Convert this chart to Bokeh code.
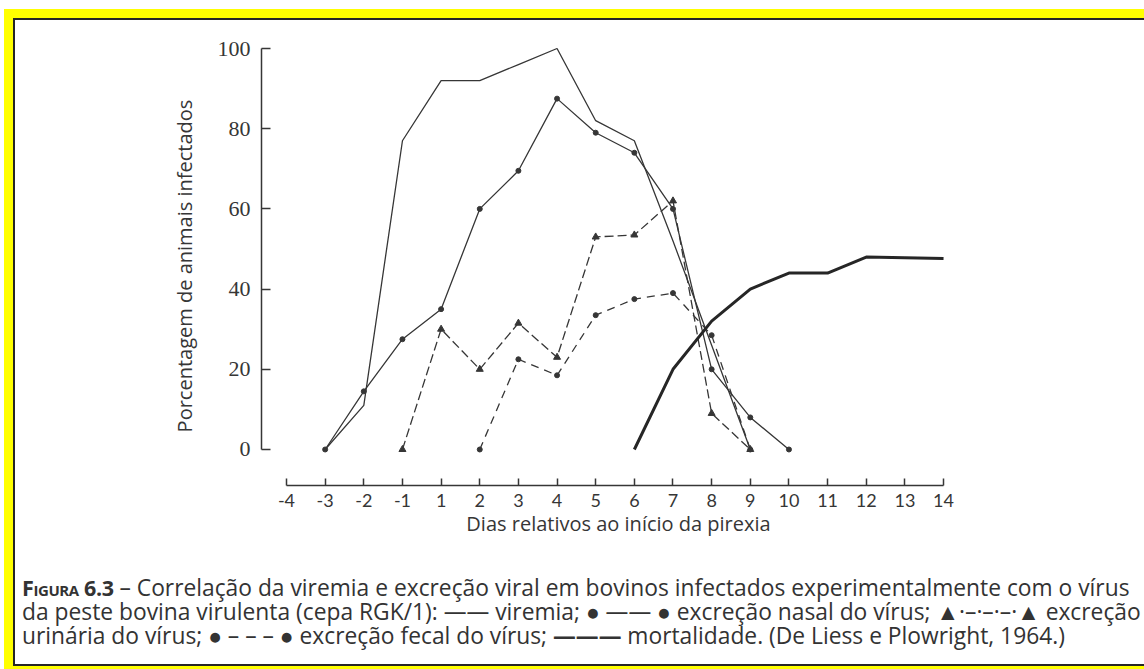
from bokeh.plotting import figure
from bokeh.models import Range1d, FixedTicker, Div, Column
from bokeh.embed import file_html
from bokeh.resources import INLINE

# ---------------- data ----------------
day_labels = ["-4", "-3", "-2", "-1", "1", "2", "3", "4", "5",
              "6", "7", "8", "9", "10", "11", "12", "13", "14"]
y_ticks = [0, 20, 40, 60, 80, 100]

viremia_days = ["-3", "-2", "-1", "1", "2", "3", "4", "5", "6", "7", "8", "9"]
viremia_pct = [0, 11, 77, 92, 92, 96, 100, 82, 77, 52, 26, 0]

nasal_days = ["-3", "-2", "-1", "1", "2", "3", "4", "5", "6", "7", "8", "9", "10"]
nasal_pct = [0, 14.5, 27.5, 35, 60, 69.5, 87.5, 79, 74, 60, 20, 8, 0]

urinary_days = ["-1", "1", "2", "3", "4", "5", "6", "7", "8", "9"]
urinary_pct = [0, 30, 20, 31.5, 23, 53, 53.5, 62, 9, 0]

fecal_days = ["2", "3", "4", "5", "6", "7", "8", "9"]
fecal_pct = [0, 22.5, 18.5, 33.5, 37.5, 39, 28.5, 0]

mortality_days = ["6", "7", "8", "9", "10", "11", "12", "13", "14"]
mortality_pct = [0, 20, 32, 40, 44, 44, 48, 47.8, 47.6]

y_title = "Porcentagem de animais infectados"
x_title = "Dias relativos ao início da pirexia"

# ---------------- helpers ----------------
pos = {lab: i for i, lab in enumerate(day_labels)}


def xs(days):
    return [pos[d] for d in days]


INK = "#363636"
W, H = 1144, 669
FIG_H = 571

p = figure(width=W, height=FIG_H,
           x_range=Range1d(-0.647, 17.827), y_range=Range1d(-8.98, 100.5),
           output_backend="svg", toolbar_location=None,
           min_border_left=261, min_border_right=169,
           min_border_top=46, min_border_bottom=FIG_H - 485,
           border_fill_color=None, background_fill_color=None,
           outline_line_color=None)
p.grid.visible = False

# y axis
ya = p.yaxis[0]
ya.bounds = (0, 100)
ya.ticker = FixedTicker(ticks=y_ticks)
ya.major_tick_in = 9
ya.major_tick_out = 0
ya.minor_tick_in = 0
ya.minor_tick_out = 0
ya.major_label_standoff = 11
ya.major_label_text_font = "Liberation Serif"
ya.major_label_text_font_size = "22px"
ya.major_label_text_color = INK
ya.axis_label = y_title
ya.axis_label_text_font = "Open Sans"
ya.axis_label_text_font_style = "normal"
ya.axis_label_text_font_size = "20px"
ya.axis_label_text_color = INK
ya.axis_label_standoff = 17
ya.axis_line_color = INK
ya.axis_line_width = 1.5
ya.major_tick_line_color = INK
ya.major_tick_line_width = 1.5

# x axis
xa = p.xaxis[0]
xa.bounds = (0, len(day_labels) - 1)
xa.ticker = FixedTicker(ticks=list(range(len(day_labels))))
xa.major_label_overrides = {i: lab for i, lab in enumerate(day_labels)}
xa.major_tick_in = 7
xa.major_tick_out = 0
xa.minor_tick_in = 0
xa.minor_tick_out = 0
xa.major_label_standoff = 8
xa.major_label_text_font = "Lato"
xa.major_label_text_font_size = "18px"
xa.major_label_text_color = INK
xa.axis_label = x_title
xa.axis_label_text_font = "Open Sans"
xa.axis_label_text_font_style = "normal"
xa.axis_label_text_font_size = "20px"
xa.axis_label_text_color = INK
xa.axis_label_standoff = 0
xa.axis_line_color = INK
xa.axis_line_width = 1.5
xa.major_tick_line_color = INK
xa.major_tick_line_width = 1.5

# series
p.line(xs(viremia_days), viremia_pct, line_color=INK, line_width=1.3)

p.line(xs(nasal_days), nasal_pct, line_color=INK, line_width=1.3)
p.scatter(xs(nasal_days), nasal_pct, marker="circle", size=5,
          fill_color=INK, line_color=INK)

p.line(xs(urinary_days), urinary_pct, line_color=INK, line_width=1.3,
       line_dash="9 4")
p.scatter(xs(urinary_days), urinary_pct, marker="triangle", size=7,
          fill_color=INK, line_color=INK)

p.line(xs(fecal_days), fecal_pct, line_color=INK, line_width=1.3,
       line_dash="8 6")
p.scatter(xs(fecal_days), fecal_pct, marker="circle", size=5,
          fill_color=INK, line_color=INK)

p.line(xs(mortality_days), mortality_pct, line_color="#262626", line_width=3)

# caption
caption = (
    '<div style="font-family:\'Open Sans\';font-size:22.8px;line-height:24px;'
    'color:#333;white-space:nowrap;padding-left:17px;">'
    '<span style="font-variant:small-caps;font-weight:bold;font-size:21.5px;'
    'letter-spacing:-0.4px;">Figura 6.3</span>'
    ' – Correlação da viremia e excreção viral em bovinos infectados '
    'experimentalmente com o vírus<br>'
    'da peste bovina virulenta (cepa RGK/1): —— viremia; '
    '● —— ● excreção nasal do vírus; ▲·–·–·–·▲ excreção<br>'
    'urinária do vírus; ● – – – ● excreção fecal do vírus; '
    '<b>———</b> mortalidade. (De Liess e Plowright, 1964.)'
    '</div>'
)
cap = Div(text=caption, width=W, height=H - FIG_H)

layout = Column(
    children=[p, cap], width=W, height=H, spacing=0,
    styles={
        "background-color": "#ffffff",
        "box-shadow": ("inset 4px 9px 0 0 #ffffff, "
                       "inset 0 -3px 0 0 #ffff00, "
                       "inset 13px 18px 0 0 #ffff00, "
                       "inset 0 -5px 0 0 #262626, "
                       "inset 15px 20px 0 0 #262626"),
    },
)

open("out.html", "w").write(file_html(layout, INLINE))
